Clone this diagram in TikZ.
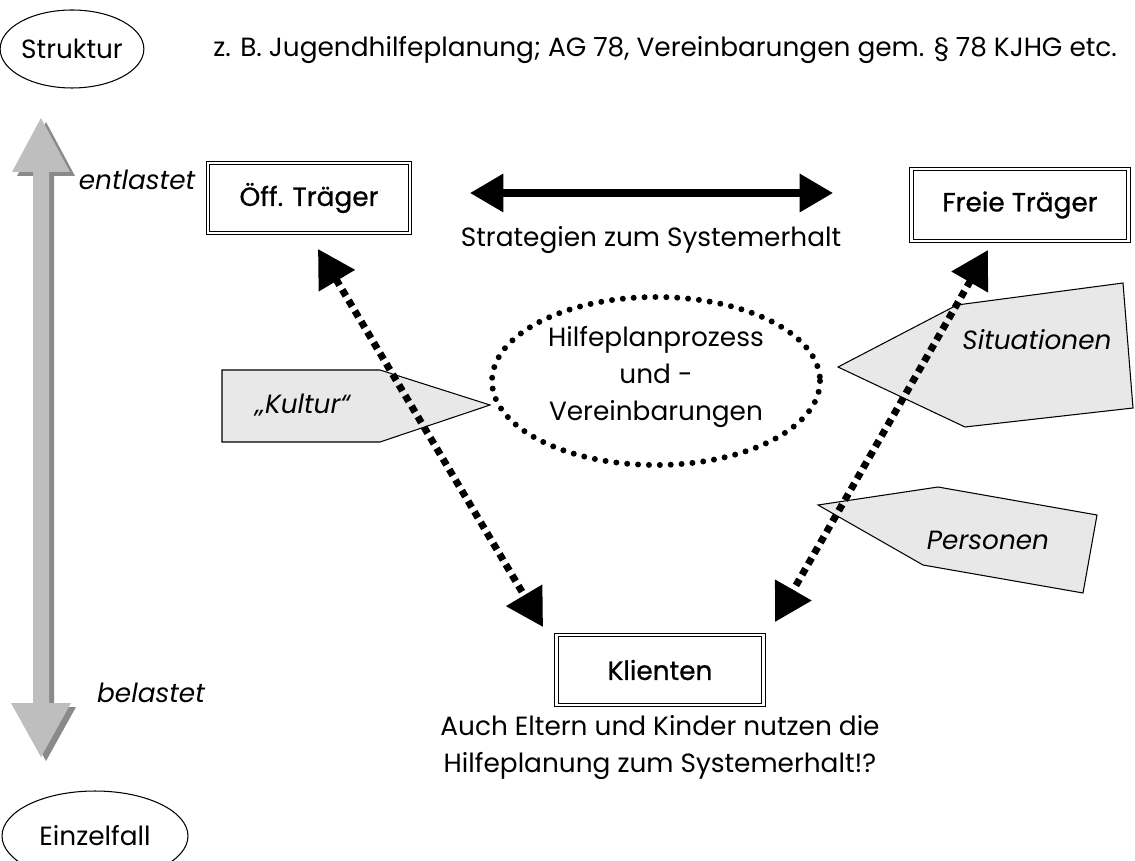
\documentclass[tikz,border=0pt]{standalone}
\usepackage{fontspec}
\setmainfont{Poppins}
\usetikzlibrary{arrows.meta,shapes.geometric}
\definecolor{arrowlight}{HTML}{BEBEBE}
\definecolor{arrowdark}{HTML}{8A8A8A}
\definecolor{calloutfill}{HTML}{E8E8E8}
\begin{document}
\begin{tikzpicture}[x=0.02cm,y=-0.02cm,
  txt/.style={font=\fontsize{15}{21}\selectfont, inner sep=0pt},
  itxt/.style={font=\fontsize{15}{21}\selectfont\itshape, inner sep=0pt},
  oval/.style={draw, ellipse, line width=0.6pt, inner sep=0pt, font=\fontsize{15}{18}\selectfont},
  boxnode/.style={draw, double, double distance=1.6pt, line width=0.5pt, inner sep=0pt, font=\fontsize{15}{18}\selectfont\addfontfeature{FakeBold=0.8}},
  callout/.style={draw, line width=0.6pt, fill=calloutfill},
  dotarrow/.style={line width=4pt, dash pattern=on 4pt off 3pt, {Triangle[length=21pt,width=23pt]}-{Triangle[length=21pt,width=23pt]}},
  bigarrow/.style={line width=4pt, {Triangle[length=19pt,width=21pt]}-{Triangle[length=19pt,width=21pt]}}
]
\useasboundingbox (0,0) rectangle (1135,861);

% top line
\node[oval, minimum width=2.74cm, minimum height=1.56cm] (struktur) at (72,49) {Struktur};
\node[txt, anchor=west] (zb) at (213,50) {z. B. Jugendhilfeplanung; AG 78, Vereinbarungen gem. § 78 KJHG etc.};

% big grey arrow
\fill[arrowdark, shift={(5,4)}] (41,118) -- (70,172) -- (49,172) -- (49,703) -- (71,703) -- (41,757) -- (11,703) -- (33,703) -- (33,172) -- (12,172) -- cycle;
\fill[arrowlight] (41,118) -- (70,172) -- (49,172) -- (49,703) -- (71,703) -- (41,757) -- (11,703) -- (33,703) -- (33,172) -- (12,172) -- cycle;
\node[itxt] (entl) at (137,180) {entlastet};
\node[itxt] (bel) at (151,693) {belastet};

% Einzelfall
\node[oval, minimum width=3.72cm, minimum height=1.8cm] (einzel) at (95,836) {Einzelfall};

% boxes
\node[boxnode, minimum width=4.04cm, minimum height=1.4cm] (oeff) at (309,198) {Öff. Träger};
\node[boxnode, minimum width=4.34cm, minimum height=1.44cm] (freie) at (1020,205) {Freie Träger};
\node[boxnode, minimum width=4.14cm, minimum height=1.4cm] (klienten) at (660,670) {Klienten};

% strategies arrow
\coordinate (sL) at (470,193);
\coordinate (sR) at (833,193);
\draw[bigarrow] (sL) -- (sR);
\node[txt] (strat) at (651,240) {Strategien zum Systemerhalt};

% caption under Klienten
\node[txt, align=center, anchor=north] (capt) at (660,715) {Auch Eltern und Kinder nutzen die\\Hilfeplanung zum Systemerhalt!?};

% callouts
\draw[callout] (222,370) -- (380,370) -- (490,405) -- (380,442) -- (222,442) -- cycle;
\node[itxt] (kultur) at (303,405) {„Kultur“};
\draw[callout] (838,367) -- (957,305) -- (1123,283) -- (1133,408) -- (965,427) -- cycle;
\node[itxt] (situ) at (1037,340) {Situationen};
\draw[callout] (818,505) -- (938,487) -- (1097,515) -- (1083,593) -- (923,565) -- cycle;
\node[itxt] (pers) at (988,540) {Personen};

% dotted ellipse
\draw[line width=3.4pt, line cap=round, dash pattern=on 0pt off 6.2pt] (656,381) ellipse [x radius=164, y radius=84];
\node[txt, align=center] (hpp) at (656,377) {Hilfeplanprozess\\und -\\Vereinbarungen};

% dotted arrows
\coordinate (lA) at (318,249);
\coordinate (lB) at (543,627);
\coordinate (rA) at (988,250);
\coordinate (rB) at (775,622);
\draw[dotarrow] (lA) -- (lB);
\draw[dotarrow] (rA) -- (rB);
\end{tikzpicture}
\end{document}
